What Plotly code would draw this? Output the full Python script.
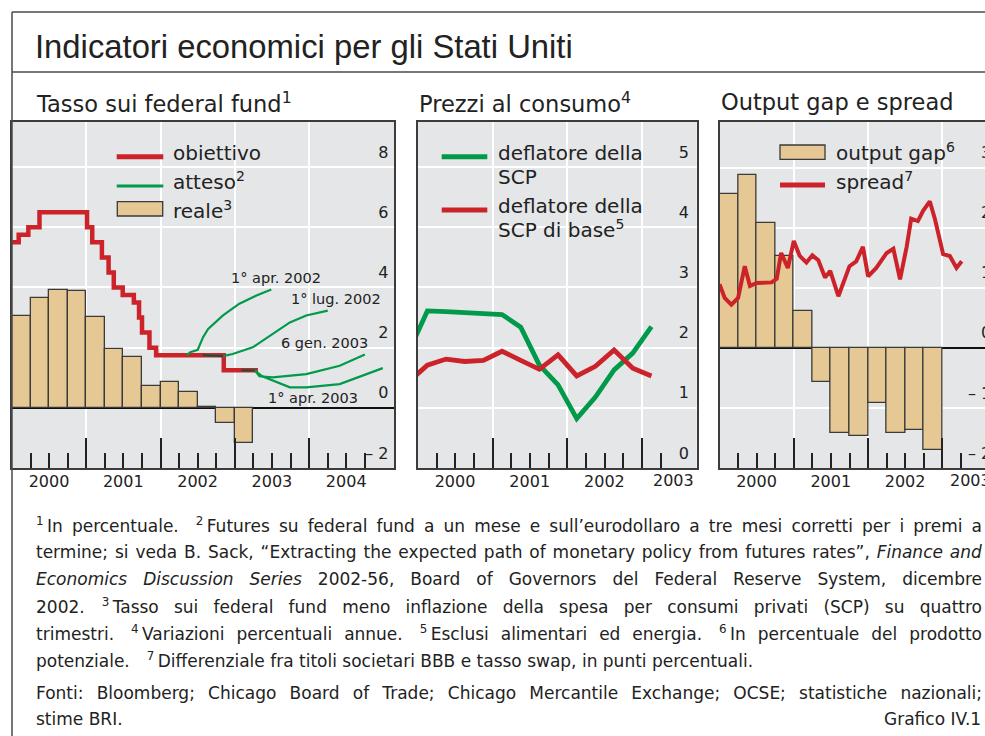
import json
import plotly.graph_objects as go

W, H = 985, 736
def X(p): return p / W
def Y(p): return 1 - p / H

FONT = "DejaVu Sans"
RED = "#cc2229"
GREEN = "#009a4a"
BAR = "#e5c893"
BARLINE = "#3a3a3a"
BG = "#e5e6e8"
FRAME = "#4a4a4a"

# ---------------- data ----------------
years_p1 = [2000, 2001, 2002, 2003, 2004]
years_p23 = [2000, 2001, 2002, 2003]
year_labels_p1 = ["2000", "2001", "2002", "2003", "2004"]
year_labels_p23 = ["2000", "2001", "2002", ""]
last_year_label = "2003"

# Panel 1: federal funds target (step), change dates as decimal years
target_x = [2000.00, 2000.09, 2000.22, 2000.37, 2001.01, 2001.08, 2001.21, 2001.30,
            2001.37, 2001.49, 2001.64, 2001.71, 2001.75, 2001.85, 2001.94, 2002.85, 2003.31]
target_y = [5.50, 5.75, 6.00, 6.50, 6.00, 5.50, 5.00, 4.50,
            4.00, 3.75, 3.50, 3.00, 2.50, 2.00, 1.75, 1.25, 1.25]

# real federal funds rate, quarterly 2000Q1-2003Q1
real_x = [2000.125, 2000.375, 2000.625, 2000.875, 2001.125, 2001.375, 2001.625,
          2001.875, 2002.125, 2002.375, 2002.625, 2002.875, 2003.125]
real_y = [3.04, 3.66, 3.92, 3.89, 3.02, 1.96, 1.69, 0.71, 0.87, 0.52, 0.04, -0.51, -1.16]

# expected paths
exp1_x = [2002.35, 2002.40, 2002.50, 2002.57, 2002.64, 2002.84, 2003.06, 2003.29, 2003.49]
exp1_y = [1.75, 1.85, 1.93, 2.34, 2.62, 3.07, 3.46, 3.73, 3.93]
exp2_x = [2002.57, 2002.84, 2002.97, 2003.24, 2003.51, 2003.74, 2003.96, 2004.25]
exp2_y = [1.75, 1.72, 1.79, 2.01, 2.46, 2.84, 3.07, 3.23]
exp3_x = [2003.09, 2003.27, 2003.33, 2003.51, 2003.96, 2004.41, 2004.75]
exp3_y = [1.25, 1.24, 1.05, 1.01, 1.12, 1.40, 1.77]
exp4_x = [2003.27, 2003.36, 2003.74, 2003.96, 2004.41, 2004.99]
exp4_y = [1.24, 1.06, 0.68, 0.68, 0.79, 1.32]
exp_labels = ["1° apr. 2002", "1° lug. 2002", "6 gen. 2003", "1° apr. 2003"]
exp_label_x = [2003.55, 2004.36, 2004.21, 2004.05]
exp_label_y = [4.33, 3.63, 2.17, 0.33]

# Panel 2: PCE deflators, quarterly
pce_x = [1999.875, 2000.125, 2000.375, 2000.625, 2000.875, 2001.125, 2001.375, 2001.625,
         2001.875, 2002.125, 2002.375, 2002.625, 2002.875, 2003.125]
pce_y = [1.93, 2.61, 2.60, 2.58, 2.57, 2.55, 2.34, 1.71, 1.38, 0.82, 1.18, 1.63, 1.91, 2.35]
core_y = [1.43, 1.71, 1.81, 1.77, 1.79, 1.94, 1.79, 1.64, 1.88, 1.53, 1.69, 1.96, 1.66, 1.53]

# Panel 3: output gap (quarterly) and spread (monthly)
gap_x = [2000.125, 2000.375, 2000.625, 2000.875, 2001.125, 2001.375, 2001.625,
         2001.875, 2002.125, 2002.375, 2002.625, 2002.875]
gap_y = [2.56, 2.87, 2.08, 1.53, 0.61, -0.56, -1.42, -1.47, -0.92, -1.41, -1.36, -1.70]
spread_x = [2000.00, 2000.07, 2000.16, 2000.25, 2000.34, 2000.41, 2000.50, 2000.61,
            2000.70, 2000.77, 2000.83, 2000.92, 2001.00, 2001.08, 2001.17, 2001.25,
            2001.33, 2001.42, 2001.49, 2001.60, 2001.66, 2001.75, 2001.84, 2001.93,
            2002.00, 2002.11, 2002.25, 2002.34, 2002.43, 2002.52, 2002.58, 2002.67,
            2002.74, 2002.83, 2002.90, 2003.01, 2003.10, 2003.19, 2003.26]
spread_y = [1.06, 0.83, 0.72, 0.83, 1.36, 1.03, 1.08, 1.08, 1.09, 1.15, 1.58, 1.33,
            1.78, 1.53, 1.42, 1.54, 1.46, 1.17, 1.28, 0.86, 1.06, 1.36, 1.44, 1.68,
            1.19, 1.33, 1.58, 1.65, 1.14, 1.69, 2.15, 2.11, 2.28, 2.44, 2.14, 1.56,
            1.53, 1.33, 1.44]

# ---------------- figure ----------------
fig = go.Figure()

# panel 1
fig.add_trace(go.Bar(x=real_x, y=real_y, width=0.25, marker=dict(color=BAR, line=dict(color=BARLINE, width=1.3)),
                     xaxis="x", yaxis="y", showlegend=False))
fig.add_trace(go.Scatter(x=target_x, y=target_y, mode="lines", line=dict(color=RED, width=4.5, shape="hv"),
                         xaxis="x", yaxis="y", showlegend=False))
for ex, ey in [(exp1_x, exp1_y), (exp2_x, exp2_y), (exp3_x, exp3_y), (exp4_x, exp4_y)]:
    fig.add_trace(go.Scatter(x=ex, y=ey, mode="lines", line=dict(color=GREEN, width=2.2),
                             xaxis="x", yaxis="y", showlegend=False))
# overlapping starts of expected paths (dark overprint)
for ex, ey in [(exp2_x[:2], exp2_y[:2]), (exp3_x[:2], exp3_y[:2])]:
    fig.add_trace(go.Scatter(x=ex, y=ey, mode="lines", line=dict(color="#3a3a3a", width=2),
                             xaxis="x", yaxis="y", showlegend=False))

# panel 2
fig.add_trace(go.Scatter(x=pce_x, y=pce_y, mode="lines", line=dict(color=GREEN, width=4.8),
                         xaxis="x2", yaxis="y2", showlegend=False))
fig.add_trace(go.Scatter(x=pce_x, y=core_y, mode="lines", line=dict(color=RED, width=4.8),
                         xaxis="x2", yaxis="y2", showlegend=False))

# panel 3
fig.add_trace(go.Bar(x=gap_x, y=gap_y, width=0.25, marker=dict(color=BAR, line=dict(color=BARLINE, width=1.3)),
                     xaxis="x3", yaxis="y3", showlegend=False))
fig.add_trace(go.Scatter(x=spread_x, y=spread_y, mode="lines", line=dict(color=RED, width=4),
                         xaxis="x3", yaxis="y3", showlegend=False))

def quarters(y0, y1):
    out = []
    for y in range(y0, y1 + 1):
        for q in (0.25, 0.5, 0.75):
            out.append(y + q)
    return out

def xax(domain, rng, tv, tt, minor_vals):
    return dict(domain=domain, range=rng, tickvals=tv, ticktext=tt, ticks="inside", ticklen=30,
                tickwidth=1.6, tickcolor="#222", ticklabelshift=37, ticklabelstandoff=-2,
                tickfont=dict(family=FONT, size=16, color="#222"), automargin=False,
                showgrid=True, gridcolor="white", gridwidth=2, zeroline=False,
                showline=True, mirror=True, linecolor="#3c3c3c", linewidth=2,
                minor=dict(tickvals=minor_vals, ticks="inside", ticklen=15, tickwidth=1.6,
                           tickcolor="#222", showgrid=False),
                fixedrange=True)

def yax(domain, rng, tv, tt, anchor, zl, standoff):
    return dict(domain=domain, range=rng, tickvals=tv, ticktext=tt, side="right", anchor=anchor,
                ticks="", ticklabelposition="inside", ticklabelshift=-15, ticklabelstandoff=standoff,
                tickfont=dict(family=FONT, size=16, color="#222"), automargin=False,
                showgrid=True, gridcolor="white", gridwidth=2,
                zeroline=zl, zerolinecolor="#111", zerolinewidth=2,
                showline=True, mirror=True, linecolor="#3c3c3c", linewidth=2, fixedrange=True)

ydom = [Y(468), Y(122)]
x1r = [2000, 2000 + (394.3 - 12) / 74.3]
x2r = [2000, 2000 + (696.7 - 418) / 74.7]
x3r = [2000, 2000 + (985 - 719.5) / 74.3]

q1 = [q for q in quarters(2000, 2004) if q < x1r[1]]
q2 = [q for q in quarters(2000, 2003) if q <= 2003.25]
q3 = [q for q in quarters(2000, 2003) if q <= 2003.25]

fig.update_layout(
    width=W, height=H, margin=dict(l=0, r=0, t=0, b=0, autoexpand=False),
    paper_bgcolor="white", plot_bgcolor=BG, bargap=0, barmode="overlay",
    xaxis=xax([X(12), X(394.3)], x1r, years_p1, year_labels_p1, q1),
    yaxis=yax(ydom, [-2, 9.5], [-2, 0, 2, 4, 6, 8], ["– 2", "0", "2", "4", "6", "8"], "x", True, 6),
    xaxis2=xax([X(418), X(696.7)], x2r, years_p23, year_labels_p23, q2),
    yaxis2=yax(ydom, [0, 5.75], [0, 1, 2, 3, 4, 5], ["0", "1", "2", "3", "4", "5"], "x2", False, 8),
    xaxis3=xax([X(719.5), 1.0], x3r, years_p23, year_labels_p23, q3),
    yaxis3=yax(ydom, [-2, 3.76], [-2, -1, 0, 1, 2, 3], ["– 2", "– 1", "0", "1", "2", "3"], "x3", True, -6),
)

shapes = []
annotations = []

# frame
shapes.append(dict(type="line", xref="paper", yref="paper", x0=X(12), x1=1, y0=Y(12), y1=Y(12),
                   line=dict(color=FRAME, width=1.5)))
shapes.append(dict(type="line", xref="paper", yref="paper", x0=X(12), x1=1, y0=Y(72), y1=Y(72),
                   line=dict(color=FRAME, width=1.5)))
shapes.append(dict(type="line", xref="paper", yref="paper", x0=X(12), x1=X(12), y0=Y(12), y1=0,
                   line=dict(color=FRAME, width=1.5)))

def txt(x, y, s, size, xanchor="left", family=FONT, color="#222"):
    annotations.append(dict(xref="paper", yref="paper", x=X(x), y=Y(y), text=s, showarrow=False,
                            xanchor=xanchor, yanchor="middle", align=xanchor if xanchor != "center" else "center",
                            font=dict(family=family, size=size, color=color)))
    return len(annotations) - 1

def leg_line(x0, x1, y, color, w):
    shapes.append(dict(type="line", xref="paper", yref="paper", x0=X(x0), x1=X(x1), y0=Y(y), y1=Y(y),
                       line=dict(color=color, width=w)))

def leg_rect(x0, x1, y0, y1):
    shapes.append(dict(type="rect", xref="paper", yref="paper", x0=X(x0), x1=X(x1), y0=Y(y1), y1=Y(y0),
                       fillcolor=BAR, line=dict(color=BARLINE, width=1.3)))

# titles
txt(33, 46, "Indicatori economici per gli Stati Uniti", 32.8, family="Liberation Sans")
txt(34, 102, "Tasso sui federal fund<sup>1</sup>", 22.5)
txt(417, 102, "Prezzi al consumo<sup>4</sup>", 22.5)
txt(719, 102, "Output gap e spread", 22.5)

# last year labels of panels 2 and 3 (placed like the reference, near the right border)
for xr, xv in (("x2", 2003.42), ("x3", 2003.38)):
    annotations.append(dict(xref=xr, yref="paper", x=xv, y=Y(480.5), text=last_year_label, showarrow=False,
                            xanchor="center", yanchor="middle", font=dict(family=FONT, size=16, color="#222")))

# legends
leg_line(116.7, 163.3, 156.7, RED, 5)
txt(171, 153, "obiettivo", 20)
leg_line(116.7, 163.3, 186, GREEN, 3)
txt(171, 181, "atteso<sup>2</sup>", 20)
leg_rect(117.3, 162.7, 201.7, 216)
txt(171, 210, "reale<sup>3</sup>", 20)

leg_line(441.7, 487.3, 156.7, GREEN, 5)
txt(496, 153, "deflatore della", 20)
txt(496, 176.5, "SCP", 20)
leg_line(441.7, 487.3, 210, RED, 5)
txt(496, 206, "deflatore della", 20)
txt(496, 229, "SCP di base<sup>5</sup>", 20)

leg_rect(780, 825, 145, 159.3)
txt(834, 152, "output gap<sup>6</sup>", 20)
leg_line(780, 825, 185, RED, 5)
txt(834, 181, "spread<sup>7</sup>", 20)

# expected-path labels (data coordinates)
for lx, ly, lt in zip(exp_label_x, exp_label_y, exp_labels):
    annotations.append(dict(xref="x", yref="y", x=lx, y=ly, text=lt, showarrow=False,
                            xanchor="center", yanchor="middle", font=dict(family=FONT, size=14.5, color="#222")))

# footnotes
TH = "\u2009"
gap = "\u2003"
foot = [
    (525, f"<sup>1</sup>{TH}In percentuale.{gap}<sup>2</sup>{TH}Futures su federal fund a un mese e sull’eurodollaro a tre mesi corretti per i premi a", True),
    (552, "termine; si veda B. Sack, “Extracting the expected path of monetary policy from futures rates”, <i>Finance and</i>", True),
    (579, "<i>Economics Discussion Series</i> 2002-56, Board of Governors del Federal Reserve System, dicembre", True),
    (606, f"2002.{gap}<sup>3</sup>{TH}Tasso sui federal fund meno inflazione della spesa per consumi privati (SCP) su quattro", True),
    (633, f"trimestri.{gap}<sup>4</sup>{TH}Variazioni percentuali annue.{gap}<sup>5</sup>{TH}Esclusi alimentari ed energia.{gap}<sup>6</sup>{TH}In percentuale del prodotto", True),
    (660, f"potenziale.{gap}<sup>7</sup>{TH}Differenziale fra titoli societari BBB e tasso swap, in punti percentuali.", False),
    (693, "Fonti: Bloomberg; Chicago Board of Trade; Chicago Mercantile Exchange; OCSE; statistiche nazionali;", True),
    (719, "stime BRI.", False),
]
justify_idx = []
for yy, s, j in foot:
    i = txt(34, yy, s, 17)
    if j:
        justify_idx.append(i)
txt(983, 719, "Grafico IV.1", 17, xanchor="right")

fig.update_layout(shapes=shapes, annotations=annotations)

post = """
document.body.style.margin='0';document.body.style.overflow='hidden';
var gd=document.getElementById('{plot_id}');
var J=%s; var RIGHT=982;
gd.querySelectorAll('g.annotation').forEach(function(g){
  var i=+g.getAttribute('data-index');
  if(J.indexOf(i)<0) return;
  var t=g.querySelector('text.annotation-text'); if(!t) return;
  var r=t.getBoundingClientRect();
  var n=(t.textContent.match(/[ ]/g)||[]).length;
  var extra=RIGHT-r.right;
  if(n>0 && extra>0){ t.style.wordSpacing=(extra/n)+'px'; }
});
""" % json.dumps(justify_idx)

fig.write_html("out.html", post_script=post, config={"displayModeBar": False})
